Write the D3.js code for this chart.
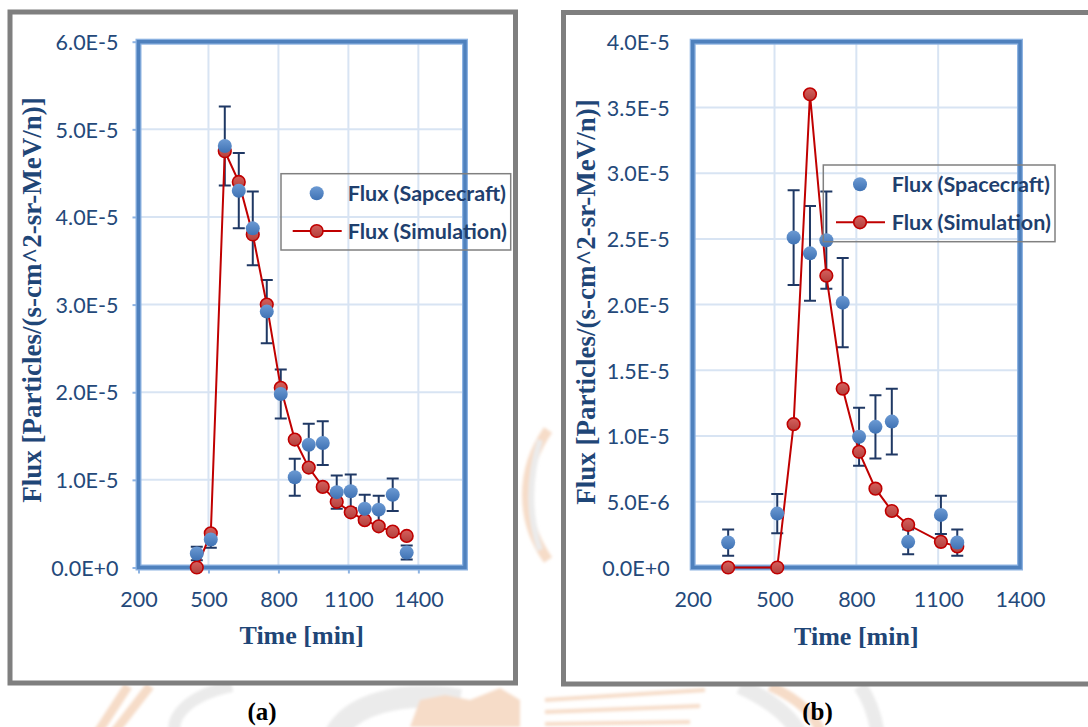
<!DOCTYPE html>
<html>
<head>
<meta charset="utf-8">
<script src="https://cdn.jsdelivr.net/npm/d3@7/dist/d3.min.js"></script>
<style>
  html, body { margin: 0; padding: 0; background: #ffffff; }
  svg { display: block; }
</style>
</head>
<body>
<svg id="chart" width="1088" height="727"></svg>
<script>
// ---- Panel (a): flux vs time, spacecraft measurements and simulation ----
const timeA = [450, 510, 570, 630, 690, 750, 810, 870, 930, 990, 1050, 1110, 1170, 1230, 1290, 1350];
const craftA = [0.16e-5, 0.32e-5, 4.81e-5, 4.30e-5, 3.87e-5, 2.92e-5, 1.98e-5, 1.03e-5, 1.40e-5, 1.42e-5, 0.86e-5, 0.87e-5, 0.67e-5, 0.66e-5, 0.83e-5, 0.17e-5];
const craftErrA = [0.076e-5, 0.095e-5, 0.45e-5, 0.43e-5, 0.42e-5, 0.36e-5, 0.28e-5, 0.21e-5, 0.24e-5, 0.25e-5, 0.19e-5, 0.19e-5, 0.16e-5, 0.16e-5, 0.185e-5, 0.08e-5];
const simA = [0, 0.39e-5, 4.75e-5, 4.40e-5, 3.80e-5, 3.00e-5, 2.05e-5, 1.46e-5, 1.14e-5, 0.92e-5, 0.75e-5, 0.63e-5, 0.54e-5, 0.47e-5, 0.41e-5, 0.36e-5];
const xTicksA = [200, 500, 800, 1100, 1400];
const yTicksA = [0, 1e-5, 2e-5, 3e-5, 4e-5, 5e-5, 6e-5];
const yTickLabelsA = ["0.0E+0", "1.0E-5", "2.0E-5", "3.0E-5", "4.0E-5", "5.0E-5", "6.0E-5"];

// ---- Panel (b) ----
const timeB = [330, 510, 570, 630, 690, 750, 810, 870, 930, 990, 1110, 1170];
const craftB = [1.9e-6, 4.1e-6, 25.1e-6, 23.9e-6, 24.9e-6, 20.15e-6, 9.95e-6, 10.7e-6, 11.1e-6, 1.95e-6, 4.0e-6, 1.9e-6];
const craftErrB = [1.0e-6, 1.5e-6, 3.6e-6, 3.6e-6, 3.7e-6, 3.4e-6, 2.2e-6, 2.4e-6, 2.5e-6, 0.95e-6, 1.45e-6, 1.0e-6];
const simB = [0, 0, 10.9e-6, 36.0e-6, 22.2e-6, 13.6e-6, 8.8e-6, 6.0e-6, 4.3e-6, 3.25e-6, 1.95e-6, 1.6e-6];
const xTicksB = [200, 500, 800, 1100, 1400];
const yTicksB = [0, 5e-6, 1e-5, 1.5e-5, 2e-5, 2.5e-5, 3e-5, 3.5e-5, 4e-5];
const yTickLabelsB = ["0.0E+0", "5.0E-6", "1.0E-5", "1.5E-5", "2.0E-5", "2.5E-5", "3.0E-5", "3.5E-5", "4.0E-5"];

const seriesNamesA = ["Flux (Sapcecraft)", "Flux (Simulation)"];
const seriesNamesB = ["Flux (Spacecraft)", "Flux (Simulation)"];
const xTitle = "Time [min]";
const yTitle = "Flux [Particles/(s-cm^2-sr-MeV/n)]";

const svg = d3.select("#chart");
const defs = svg.append("defs");

const blueGrad = defs.append("linearGradient").attr("id", "blueFill")
  .attr("x1", 0).attr("y1", 0).attr("x2", 0).attr("y2", 1);
blueGrad.append("stop").attr("offset", "0%").attr("stop-color", "#6c9ad3");
blueGrad.append("stop").attr("offset", "100%").attr("stop-color", "#3f72b4");

const redGrad = defs.append("linearGradient").attr("id", "redFill")
  .attr("x1", 0).attr("y1", 0).attr("x2", 0).attr("y2", 1);
redGrad.append("stop").attr("offset", "0%").attr("stop-color", "#d6615e");
redGrad.append("stop").attr("offset", "100%").attr("stop-color", "#b2403c");

defs.append("filter").attr("id", "soft")
  .append("feGaussianBlur").attr("stdDeviation", 1.5);

// faint page watermark, visible only around the chart frames
const wm = svg.append("g").attr("filter", "url(#soft)").attr("fill", "none");
const wmOrange = "#f6dcc8", wmGray = "#ebebeb";
wm.append("path").attr("d", "M150,686 L112,735 M128,686 L96,735").attr("stroke", wmOrange).attr("stroke-width", 9);
wm.append("path").attr("d", "M175,735 C170,715 190,695 232,686").attr("stroke", wmGray).attr("stroke-width", 12);
wm.append("path").attr("d", "M335,735 C350,705 400,690 460,700").attr("stroke", wmGray).attr("stroke-width", 22);
wm.append("path").attr("d", "M410,727 L420,700 L445,695 L470,700 L500,688 L520,700 L520,727 Z").attr("fill", wmOrange);
wm.append("path").attr("d", "M548,430 C520,470 520,520 548,560").attr("stroke", wmOrange).attr("stroke-width", 10);
wm.append("path").attr("d", "M540,440 C528,480 528,515 540,550").attr("stroke", wmGray).attr("stroke-width", 6);
wm.append("path").attr("d", "M545,700 L705,690 M545,712 L700,706 M545,724 L690,722").attr("stroke", wmOrange).attr("stroke-width", 4);
wm.append("path").attr("d", "M740,686 C770,700 790,715 800,735").attr("stroke", wmGray).attr("stroke-width", 16);
wm.append("path").attr("d", "M770,686 C800,700 815,715 822,735").attr("stroke", wmOrange).attr("stroke-width", 10);
wm.append("path").attr("d", "M860,686 C870,700 875,715 878,735").attr("stroke", wmGray).attr("stroke-width", 14);

const TICK_FONT = "Lato, 'Open Sans', sans-serif";
const TITLE_FONT = "'Liberation Serif', 'Times New Roman', serif";
const TEXT_BLUE = "#24497a";
const TITLE_BLUE = "#1f4677";

function drawPanel(cfg) {
  const g = svg.append("g");

  // outer chart frame
  g.append("rect")
    .attr("x", cfg.frame[0]).attr("y", cfg.frame[1])
    .attr("width", cfg.frame[2]).attr("height", cfg.frame[3])
    .attr("fill", "#ffffff").attr("stroke", "#7f7f7f").attr("stroke-width", 5);

  const x = d3.scaleLinear().domain(cfg.xDomain).range([cfg.left, cfg.right]);
  const y = d3.scaleLinear().domain(cfg.yDomain).range([cfg.bottom, cfg.top]);

  // gridlines
  g.append("g").selectAll("line.gy").data(cfg.yTicks.filter(d => d > 0)).join("line")
    .attr("x1", cfg.left).attr("x2", cfg.right)
    .attr("y1", d => y(d)).attr("y2", d => y(d))
    .attr("stroke", "#d8e4f3").attr("stroke-width", 2);
  g.append("g").selectAll("line.gx").data(cfg.xTicks.filter(d => d > cfg.xDomain[0] && d < cfg.xDomain[1])).join("line")
    .attr("x1", d => x(d)).attr("x2", d => x(d))
    .attr("y1", cfg.top).attr("y2", cfg.bottom)
    .attr("stroke", "#d8e4f3").attr("stroke-width", 2);

  // axes (ticks + labels)
  const yAxis = d3.axisLeft(y).tickValues(cfg.yTicks)
    .tickFormat((d, i) => cfg.yLabels[i]).tickSize(cfg.showTicks ? 6 : 0).tickPadding(cfg.yPad);
  const ya = g.append("g").attr("transform", `translate(${cfg.left},0)`).call(yAxis);
  ya.select(".domain").remove();
  ya.selectAll(".tick line").attr("stroke", "#8db3e2").attr("stroke-width", 2);
  ya.selectAll(".tick text").attr("font-family", TICK_FONT).attr("font-size", 21.5)
    .attr("fill", TEXT_BLUE).attr("dy", "0.36em");

  const xAxis = d3.axisBottom(x).tickValues(cfg.xTicks).tickFormat(d3.format("d"))
    .tickSize(cfg.showTicks ? 6 : 0).tickPadding(cfg.xPad);
  const xa = g.append("g").attr("transform", `translate(0,${cfg.bottom})`).call(xAxis);
  xa.select(".domain").remove();
  xa.selectAll(".tick line").attr("stroke", "#8db3e2").attr("stroke-width", 2);
  xa.selectAll(".tick text").attr("font-family", TICK_FONT).attr("font-size", 21.5)
    .attr("fill", TEXT_BLUE).attr("dy", "0").attr("y", 0)
    .attr("transform", `translate(0,${cfg.xLabelBaseline - cfg.bottom})`);

  // plot-area border
  g.append("rect")
    .attr("x", cfg.left).attr("y", cfg.top)
    .attr("width", cfg.right - cfg.left).attr("height", cfg.bottom - cfg.top)
    .attr("fill", "none").attr("stroke", "#8db3e2").attr("stroke-width", 6);
  g.append("rect")
    .attr("x", cfg.left).attr("y", cfg.top)
    .attr("width", cfg.right - cfg.left).attr("height", cfg.bottom - cfg.top)
    .attr("fill", "none").attr("stroke", "#4f81bd").attr("stroke-width", 3.5);

  // axis titles
  g.append("text")
    .attr("x", (cfg.left + cfg.right) / 2).attr("y", cfg.xTitleBaseline)
    .attr("text-anchor", "middle").attr("font-family", TITLE_FONT)
    .attr("font-weight", "bold").attr("font-size", 26).attr("fill", TITLE_BLUE)
    .text(xTitle);
  g.append("text")
    .attr("transform", `translate(${cfg.yTitleBaseline},${cfg.yTitleCenter}) rotate(-90)`)
    .attr("text-anchor", "middle").attr("font-family", TITLE_FONT)
    .attr("font-weight", "bold").attr("font-size", 27).attr("fill", TITLE_BLUE)
    .text(yTitle);

  // spacecraft error bars
  const craft = cfg.craftTime.map((t, i) => ({ t, v: cfg.craft[i], e: cfg.craftErr[i] }));
  const eb = g.append("g").attr("stroke", "#1f3864").attr("stroke-width", 2).attr("fill", "none");
  eb.selectAll("path").data(craft).join("path")
    .attr("d", d => {
      const cx = x(d.t), y1 = y(d.v + d.e), y0 = y(d.v - d.e);
      return `M${cx},${y1}V${y0}M${cx - 6},${y1}H${cx + 6}M${cx - 6},${y0}H${cx + 6}`;
    });

  // simulation line + markers
  const sim = cfg.simTime.map((t, i) => ({ t, v: cfg.sim[i] }));
  g.append("path").datum(sim)
    .attr("d", d3.line().x(d => x(d.t)).y(d => y(d.v)))
    .attr("fill", "none").attr("stroke", "#c00000").attr("stroke-width", 2);
  g.append("g").selectAll("circle").data(sim).join("circle")
    .attr("cx", d => x(d.t)).attr("cy", d => y(d.v)).attr("r", 6.3)
    .attr("fill", "url(#redFill)").attr("stroke", "#c00000").attr("stroke-width", 1.6);

  // spacecraft markers
  g.append("g").selectAll("circle").data(craft).join("circle")
    .attr("cx", d => x(d.t)).attr("cy", d => y(d.v)).attr("r", 7)
    .attr("fill", "url(#blueFill)");

  // legend (no fill, border only)
  const L = cfg.legend;
  const lg = g.append("g");
  lg.append("rect").attr("x", L.x).attr("y", L.y).attr("width", L.w).attr("height", L.h)
    .attr("fill", "none").attr("stroke", "#808080").attr("stroke-width", 1.5);
  lg.append("circle").attr("cx", L.markX).attr("cy", L.row1).attr("r", 7).attr("fill", "url(#blueFill)");
  lg.append("line").attr("x1", L.markX - 24).attr("x2", L.markX + 25)
    .attr("y1", L.row2).attr("y2", L.row2).attr("stroke", "#c00000").attr("stroke-width", 2);
  lg.append("circle").attr("cx", L.markX).attr("cy", L.row2).attr("r", 6.3)
    .attr("fill", "url(#redFill)").attr("stroke", "#c00000").attr("stroke-width", 1.6);
  [cfg.names[0], cfg.names[1]].forEach((name, i) => {
    lg.append("text").attr("x", L.textX).attr("y", (i === 0 ? L.row1 : L.row2) + 7.8)
      .attr("font-family", TICK_FONT).attr("font-weight", "bold").attr("font-size", 21.5)
      .attr("fill", "#1f3f6e").text(name);
  });

  // panel caption
  svg.append("text").attr("x", cfg.captionX).attr("y", 720)
    .attr("text-anchor", "middle").attr("font-family", TITLE_FONT)
    .attr("font-weight", "bold").attr("font-size", 25).attr("fill", "#000")
    .text(cfg.caption);
}

drawPanel({
  frame: [10, 12, 505.5, 671],
  left: 138.5, right: 465, top: 41.7, bottom: 567.5,
  xDomain: [200, 1600], yDomain: [0, 6e-5],
  xTicks: xTicksA, yTicks: yTicksA, yLabels: yTickLabelsA,
  showTicks: true, yPad: 14, xPad: 0, xLabelBaseline: 606.5,
  xTitleBaseline: 644, yTitleBaseline: 41, yTitleCenter: 300,
  craftTime: timeA, craft: craftA, craftErr: craftErrA,
  simTime: timeA, sim: simA,
  names: seriesNamesA,
  legend: { x: 281, y: 173.7, w: 229.7, h: 76.3, markX: 316.7, row1: 193.3, row2: 231, textX: 347.7 },
  caption: "(a)", captionX: 262
});

drawPanel({
  frame: [563.5, 12.5, 560, 671.5],
  left: 692.7, right: 1020, top: 41.7, bottom: 567.5,
  xDomain: [200, 1400], yDomain: [0, 4e-5],
  xTicks: xTicksB, yTicks: yTicksB, yLabels: yTickLabelsB,
  showTicks: false, yPad: 23, xPad: 0, xLabelBaseline: 606.5,
  xTitleBaseline: 645, yTitleBaseline: 594.5, yTitleCenter: 302,
  craftTime: timeB, craft: craftB, craftErr: craftErrB,
  simTime: timeB, sim: simB,
  names: seriesNamesB,
  legend: { x: 823.3, y: 165, w: 231.7, h: 76.7, markX: 860, row1: 184.3, row2: 222.3, textX: 891.7 },
  caption: "(b)", captionX: 817.5
});
</script>
</body>
</html>
